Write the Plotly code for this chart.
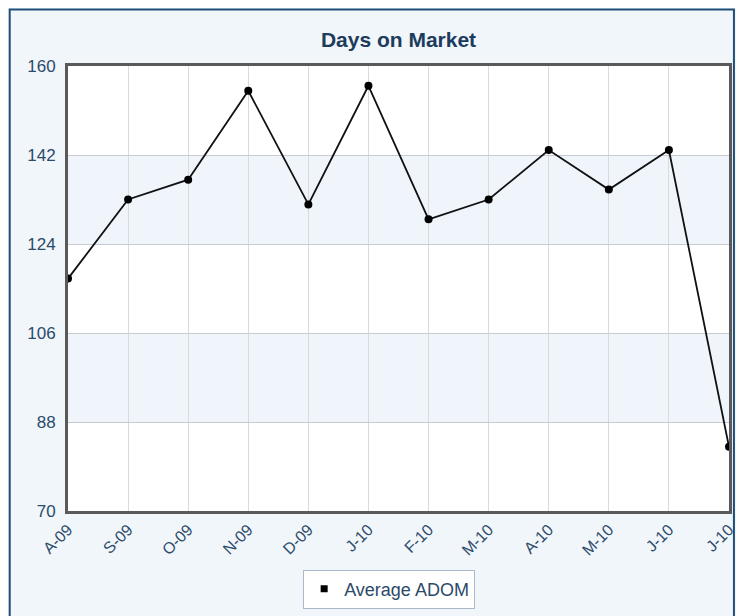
import plotly.graph_objects as go

months = ["A-09", "S-09", "O-09", "N-09", "D-09", "J-10", "F-10", "M-10", "A-10", "M-10", "J-10", "J-10"]
adom = [117, 133, 137, 155, 132, 156, 129, 133, 143, 135, 143, 83]
y_ticks = [70, 88, 106, 124, 142, 160]
bands = [(124, 142), (88, 106)]

x_idx = list(range(len(months)))

# page body adds an 8px margin, so figure coordinates = reference coordinates - 8
W, H = 736, 608
L, R, T, B = 60, 7, 58, 102
pw, ph = W - L - R, H - T - B

def px(xp):
    return (xp - L) / pw

def py(yp):
    return (H - B - yp) / ph

fig = go.Figure()
fig.add_trace(go.Scatter(
    x=x_idx, y=adom, mode="lines+markers",
    line=dict(color="#111111", width=1.8),
    marker=dict(color="#000000", size=8),
    showlegend=False, hoverinfo="y",
))
fig.add_trace(go.Scatter(
    x=[None], y=[None], mode="markers", name="Average ADOM",
    marker=dict(color="#000000", size=7, symbol="square"),
))

shapes = []
for lo, hi in bands:
    shapes.append(dict(type="rect", xref="paper", yref="y", x0=0, x1=1, y0=lo, y1=hi,
                       fillcolor="#eff5fa", line=dict(width=0), layer="below"))
# outer border
shapes.append(dict(type="rect", xref="paper", yref="paper",
                   x0=px(1), x1=px(734), y0=py(640), y1=py(1),
                   line=dict(color="#1f4e79", width=2), fillcolor="rgba(0,0,0,0)", layer="below"))

fig.update_layout(
    width=W, height=H,
    margin=dict(l=L, r=R, t=T, b=B, pad=0),
    paper_bgcolor="#f1f6fa",
    plot_bgcolor="#ffffff",
    title=dict(text="<b>Days on Market</b>", xref="paper", x=0.5, xanchor="center",
               y=1 - 32 / H, yanchor="middle",
               font=dict(family="Arial", size=21, color="#1d3b5c")),
    shapes=shapes,
    showlegend=True,
    legend=dict(orientation="h", x=px(298), xanchor="left", y=py(565), yanchor="top",
                bgcolor="#ffffff", bordercolor="#a9b9c9", borderwidth=1,
                font=dict(family="Arial", size=18, color="#2c4a6a"), itemwidth=30),
    font=dict(family="Arial"),
)
fig.update_xaxes(
    range=[0, len(months) - 1], tickvals=x_idx, ticktext=months, tickangle=-45,
    ticklabeloverflow="allow",
    showgrid=True, gridcolor="#dadada", gridwidth=1,
    showline=True, linecolor="#5a5a5a", linewidth=3, mirror=True,
    ticks="", tickfont=dict(family="Arial", size=16, color="#2c4a6a"), zeroline=False,
)
fig.update_yaxes(
    range=[70, 160], tickvals=y_ticks, ticktext=[str(v) for v in y_ticks],
    showgrid=True, gridcolor="#c5cbd1", gridwidth=1,
    showline=True, linecolor="#5a5a5a", linewidth=3, mirror=True,
    ticks="", ticklabelstandoff=6, tickfont=dict(family="Arial", size=17, color="#2c4a6a"), zeroline=False,
)

fig.write_html("out.html")
